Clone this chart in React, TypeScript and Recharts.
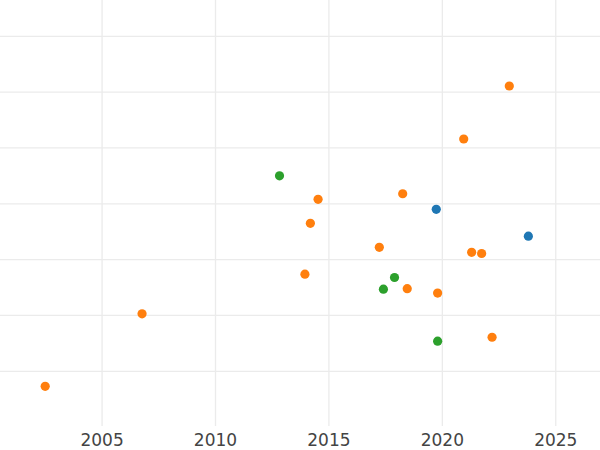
import React from 'react';
import { ScatterChart, Scatter, XAxis, YAxis, CartesianGrid } from 'recharts';

// three groups, x = year, y = value (no y labels in the original)
const blueYears = [2019.71, 2023.77];
const blueValues = [3.9, 3.42];

const orangeYears = [
  2002.47, 2006.74, 2013.92, 2014.16, 2014.5, 2017.2, 2018.23,
  2018.43, 2019.77, 2020.92, 2021.27, 2021.71, 2022.17, 2022.93,
];
const orangeValues = [
  0.73, 2.03, 2.74, 3.65, 4.08, 3.22, 4.18,
  2.48, 2.4, 5.16, 3.13, 3.11, 1.61, 6.11,
];

const greenYears = [2012.8, 2017.38, 2017.87, 2019.77];
const greenValues = [4.5, 2.47, 2.68, 1.54];

const xTicks = [2005, 2010, 2015, 2020, 2025];
const yTicks = [1, 2, 3, 4, 5, 6, 7];

const toPoints = (xs: number[], ys: number[]) => xs.map((x, i) => ({ x, y: ys[i] }));

const blueData = toPoints(blueYears, blueValues);
const orangeData = toPoints(orangeYears, orangeValues);
const greenData = toPoints(greenYears, greenValues);

const Dot = (props: any) => {
  const { cx, cy, fill } = props;
  return <circle cx={cx + 0.5} cy={cy} r={4.6} fill={fill} />;
};

const App: React.FC = () => (
  <div style={{ position: 'absolute', left: 0, top: 0, fontFamily: 'DejaVu Sans' }}>
    <ScatterChart width={600} height={450} margin={{ top: 0, right: 0, bottom: 0, left: 0 }}>
      <CartesianGrid
        stroke="#ebebeb"
        strokeWidth={1.3}
        horizontalValues={yTicks}
        verticalValues={xTicks}
      />
      <XAxis
        type="number"
        dataKey="x"
        domain={[2000.5, 2026.95]}
        ticks={xTicks}
        allowDataOverflow
        axisLine={false}
        tickLine={false}
        height={24}
        tick={{ fill: '#444', fontSize: 17 }}
      />
      <YAxis type="number" dataKey="y" domain={[0.02, 7.65]} ticks={yTicks} allowDataOverflow hide />
      <Scatter data={blueData} fill="#1f77b4" shape={Dot} isAnimationActive={false} />
      <Scatter data={orangeData} fill="#ff7f0e" shape={Dot} isAnimationActive={false} />
      <Scatter data={greenData} fill="#2ca02c" shape={Dot} isAnimationActive={false} />
    </ScatterChart>
  </div>
);

export default App;
